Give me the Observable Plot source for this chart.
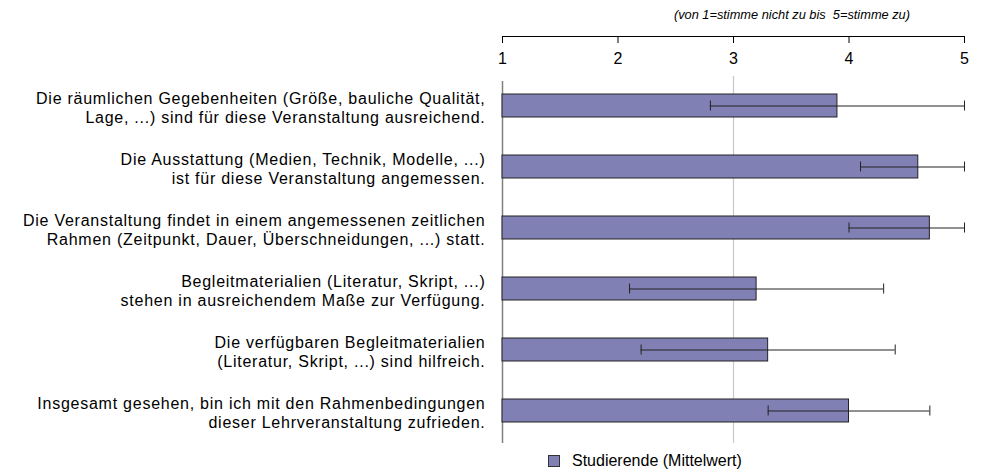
<!DOCTYPE html>
<html>
<head>
<meta charset="utf-8">
<script src="https://cdn.jsdelivr.net/npm/d3@7"></script>
<script src="https://cdn.jsdelivr.net/npm/@observablehq/plot@0.6"></script>
<style>
  html, body { margin: 0; padding: 0; background: #fff; }
  body { width: 984px; height: 471px; overflow: hidden; font-family: "Liberation Sans", Arial, sans-serif; color: #000; }
  #subtitle { height: 30px; line-height: 30px; text-align: right; padding-right: 74px; font-style: italic; font-size: 12.8px; white-space: pre; }
  #axis svg, #chart svg { display: block; }
  #chart g[aria-label="y-axis tick label"] text { letter-spacing: 0.75px; }
  #legend { margin-top: 8px; height: 16px; padding-left: 548px; display: flex; align-items: center; font-size: 16px; line-height: 16px; }
  #legend .sw { width: 12px; height: 12px; box-sizing: border-box; border: 1px solid #333; background: #8080b4; margin-right: 12px; }
</style>
</head>
<body>
<div id="subtitle"></div>
<div id="axis"></div>
<div id="chart"></div>
<div id="legend"><span class="sw"></span><span id="legendText"></span></div>
<script>
const subtitle = "(von 1=stimme nicht zu bis  5=stimme zu)";
const legendLabel = "Studierende (Mittelwert)";
const categories = [
  "Die räumlichen Gegebenheiten (Größe, bauliche Qualität,\nLage, ...) sind für diese Veranstaltung ausreichend.",
  "Die Ausstattung (Medien, Technik, Modelle, ...)\nist für diese Veranstaltung angemessen.",
  "Die Veranstaltung findet in einem angemessenen zeitlichen\nRahmen (Zeitpunkt, Dauer, Überschneidungen, ...) statt.",
  "Begleitmaterialien (Literatur, Skript, ...)\nstehen in ausreichendem Maße zur Verfügung.",
  "Die verfügbaren Begleitmaterialien\n(Literatur, Skript, ...) sind hilfreich.",
  "Insgesamt gesehen, bin ich mit den Rahmenbedingungen\ndieser Lehrveranstaltung zufrieden."
];
const means   = [3.9, 4.6, 4.7, 3.2, 3.3, 4.0];
const errLow  = [2.8, 4.1, 4.0, 2.1, 2.2, 3.3];
const errHigh = [5.0, 5.0, 5.0, 4.3, 4.4, 4.7];
const xTicks  = [1, 2, 3, 4, 5];
const scaleMin = 1, scaleMax = 5, midLine = 3;

document.getElementById("subtitle").textContent = subtitle;
document.getElementById("legendText").textContent = legendLabel;

const rows = categories.map((c, i) => ({label: c, base: scaleMin, mean: means[i], lo: errLow[i], hi: errHigh[i]}));

const fillColor = "#8080b4";
const font = "'Liberation Sans', Arial, sans-serif";
const common = {width: 984, marginLeft: 502, marginRight: 20};

// Top axis (line with downward ticks, labels below the line)
const axisPlot = Plot.plot({
  ...common,
  height: 43,
  marginTop: 6,
  marginBottom: 30,
  style: {fontFamily: font, fontSize: "16px", color: "#000", background: "#fff", overflow: "visible"},
  x: {domain: [scaleMin, scaleMax], label: null, axis: null},
  y: {domain: [0, 1], axis: null},
  marks: [
    Plot.ruleY([1], {x1: scaleMin, x2: scaleMax, stroke: "#000", strokeWidth: 1}),
    Plot.ruleX(xTicks, {x: d => d, y1: 0, y2: 1, stroke: "#000", strokeWidth: 1}),
    Plot.axisX(xTicks, {anchor: "bottom", tickSize: 0, tickPadding: 9, fontSize: 16, fill: "#000", tickFormat: d => String(d), label: null})
  ]
});
document.getElementById("axis").appendChild(axisPlot);

const chart = Plot.plot({
  ...common,
  height: 372,
  marginTop: 0,
  marginBottom: 2,
  style: {fontFamily: font, fontSize: "16px", color: "#000", background: "#fff", overflow: "visible"},
  x: {domain: [scaleMin, scaleMax], label: null, axis: null},
  y: {domain: categories, paddingInner: 0.627, paddingOuter: 0.3135, label: null, axis: null},
  marks: [
    Plot.axisY({anchor: "left", tickSize: 0, tickPadding: 17, fontSize: 16, lineHeight: 1.2, dy: 1, fill: "#000", label: null}),
    Plot.ruleX([midLine], {stroke: "#c8c8c8", strokeWidth: 1.2, insetTop: 3}),
    Plot.ruleX([scaleMin], {stroke: "#808080", strokeWidth: 1.5, insetTop: 8}),
    Plot.barX(rows, {y: "label", x1: "base", x2: "mean", fill: fillColor, stroke: "#222", strokeWidth: 1}),
    Plot.ruleY(rows, {y: "label", x1: "lo", x2: "hi", stroke: "#222", strokeWidth: 1}),
    Plot.tickX(rows, {y: "label", x: "lo", stroke: "#222", strokeWidth: 1, insetTop: 6.5, insetBottom: 6.5}),
    Plot.tickX(rows, {y: "label", x: "hi", stroke: "#222", strokeWidth: 1, insetTop: 6.5, insetBottom: 6.5})
  ]
});
document.getElementById("chart").appendChild(chart);
</script>
</body>
</html>
